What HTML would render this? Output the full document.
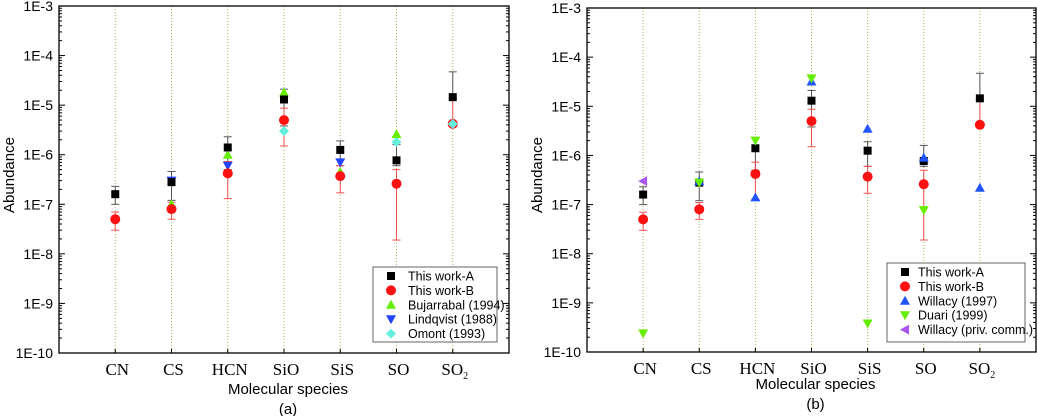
<!DOCTYPE html>
<html><head><meta charset="utf-8"><style>
html,body{margin:0;padding:0;background:#fff}
svg{display:block}
text{font-family:"Liberation Sans",sans-serif}
.cat{font-family:"Liberation Serif",serif;font-size:17px}
</style></head><body>
<svg id="chart" width="1037" height="416" xmlns="http://www.w3.org/2000/svg"></svg>
<script>
const categories = ["CN","CS","HCN","SiO","SiS","SO","SO2"];
// Panel (a) / (b) shared: This work-A and B
const workA = [1.6e-7, 2.8e-7, 1.4e-6, 1.3e-5, 1.25e-6, 7.7e-7, 1.45e-5];
const workAlo = [1.0e-7, 1.2e-7, 5e-7, 3.8e-6, 6e-7, 6e-7, 1.35e-5];
const workAhi = [2.3e-7, 4.6e-7, 2.3e-6, 2.1e-5, 1.9e-6, 1.6e-6, 4.7e-5];
const workB = [5e-8, 8e-8, 4.2e-7, 5e-6, 3.7e-7, 2.6e-7, 4.2e-6];
const workBlo = [3e-8, 5e-8, 1.3e-7, 1.5e-6, 1.7e-7, 1.9e-8, 4.2e-6];
const workBhi = [7e-8, 1.1e-7, 7.3e-7, 8.7e-6, 6e-7, 5e-7, 1.4e-5];
// Panel (a)
const bujarrabal = [null, 1e-7, 1e-6, 1.8e-5, 4.5e-7, 2.6e-6, null];
const lindqvist = [null, 3e-7, 6e-7, null, 7e-7, null, null];
const omont = [null, null, null, 3e-6, null, 1.8e-6, 4.2e-6];
// Panel (b)
const willacy = [null, 3e-7, 1.4e-7, 3.2e-5, 3.5e-6, 9e-7, 2.2e-7];
const duari = [2.4e-10, 2.8e-7, 2e-6, 3.7e-5, 3.8e-10, 7.7e-8, null];
const willacyPriv = [3e-7, null, null, null, null, null, null];
const yTicks = ["1E-3","1E-4","1E-5","1E-6","1E-7","1E-8","1E-9","1E-10"];

const NS="http://www.w3.org/2000/svg";
const svg=document.getElementById('chart');
function mk(tag,attrs,parent){const e=document.createElementNS(NS,tag);for(const k in attrs)e.setAttribute(k,attrs[k]);(parent||svg).appendChild(e);return e;}

function panel(P){
  const g=mk('g',{});
  
  
  const X=i=>P.x0+(i+1)*(P.x1-P.x0)/8;
  const Y=v=>P.y0+(-3-Math.log10(v))*(P.y1-P.y0)/7;
  categories.forEach((c,i)=>{
    const l=mk('line',{x1:X(i),x2:X(i),y1:P.y0,y2:P.y1,stroke:'#b0b060','stroke-width':1,'stroke-dasharray':'1,2'},g);
    
    
  });
  const fr=mk('rect',{x:P.x0,y:P.y0,width:P.x1-P.x0,height:P.y1-P.y0,fill:'none',stroke:'#000','stroke-width':1.3},g);
  
  
  for(let d=-3;d>=-10;d--){
    const y=Y(Math.pow(10,d));
    mk('line',{x1:P.x0,x2:P.x0+6,y1:y,y2:y,stroke:'#000'},g);
    mk('line',{x1:P.x1,x2:P.x1-6,y1:y,y2:y,stroke:'#000'},g);
    const t=mk('text',{x:P.x0-6,y:y+5,'text-anchor':'end','font-size':14},g);
    t.textContent=yTicks[-3-d];
    
    
    if(d>-10)for(let m=2;m<=9;m++){
      const ym=Y(m*Math.pow(10,d-1));
      mk('line',{x1:P.x0,x2:P.x0+3,y1:ym,y2:ym,stroke:'#000'},g);
      mk('line',{x1:P.x1,x2:P.x1-3,y1:ym,y2:ym,stroke:'#000'},g);
    }
  }
  categories.forEach((c,i)=>{
    mk('line',{x1:X(i),x2:X(i),y1:P.y1,y2:P.y1-4,stroke:'#000'},g);
    const t=mk('text',{x:X(i)+2,y:P.y1+22,'text-anchor':'middle',class:'cat'},g);
    if(c==='SO2'){t.textContent='SO';const s=mk('tspan',{'font-size':10,dy:4},t);s.textContent='2';}
    else t.textContent=c;
    
    
  });
  const xt=mk('text',{x:(P.x0+P.x1)/2+4,y:P.xtY,'text-anchor':'middle','font-size':15},g);
  xt.textContent='Molecular species';
  
  
  const pl=mk('text',{x:(P.x0+P.x1)/2+4,y:P.xtY+20,'text-anchor':'middle','font-size':15},g);
  pl.textContent=P.label;
  
  
  const yt=mk('text',{x:0,y:0,'text-anchor':'middle','font-size':15,transform:`translate(${P.ytX},175) rotate(-90)`},g);
  yt.textContent='Abundance';
  
  
  function ebar(lo,hi,col,i){
    const x=X(i);
    mk('line',{x1:x,x2:x,y1:Y(lo[i]),y2:Y(hi[i]),stroke:col,'stroke-width':1},g);
    mk('line',{x1:x-4,x2:x+4,y1:Y(lo[i]),y2:Y(lo[i]),stroke:col,'stroke-width':1},g);
    mk('line',{x1:x-4,x2:x+4,y1:Y(hi[i]),y2:Y(hi[i]),stroke:col,'stroke-width':1},g);
  }
  categories.forEach((c,i)=>{ebar(workAlo,workAhi,'#555',i);ebar(workBlo,workBhi,'#f05050',i);});
  function marker(shape,x,y,col,parent){
    let e;
    if(shape==='sq')e=mk('rect',{x:x-4,y:y-4,width:8,height:8,fill:col},parent);
    else if(shape==='ci')e=mk('circle',{cx:x,cy:y,r:5,fill:col},parent);
    else if(shape==='up')e=mk('polygon',{points:`${x-5},${y+4} ${x+5},${y+4} ${x},${y-5}`,fill:col},parent);
    else if(shape==='dn')e=mk('polygon',{points:`${x-5},${y-4} ${x+5},${y-4} ${x},${y+5}`,fill:col},parent);
    else if(shape==='di')e=mk('polygon',{points:`${x},${y-5} ${x+5},${y} ${x},${y+5} ${x-5},${y}`,fill:col},parent);
    else if(shape==='lf')e=mk('polygon',{points:`${x+4},${y-5} ${x+4},${y+5} ${x-5},${y}`,fill:col},parent);
    return e;
  }
  P.series.forEach(s=>{
    s.data.forEach((v,i)=>{
      if(v==null)return;
      const m=marker(s.shape,X(i),Y(v),s.color,g);
      
      
    });
  });
  const L=P.legend;
  const lg=mk('g',{},g);
  
  
  mk('rect',{x:L.x,y:L.y,width:L.w,height:L.h,fill:'#fff',stroke:'#666','stroke-width':1},lg);
  P.series.slice().sort((a,b)=>a.order-b.order).forEach((s,k)=>{
    const yy=L.y+9+k*14.4;
    marker(s.shape,L.x+18,yy,s.color,lg);
    const t=mk('text',{x:L.x+L.tx,y:yy+4.5,'font-size':12.5},lg);
    t.textContent=s.label;
    
    
  });
}

panel({name:'panel-a',label:'(a)',x0:59,x1:509,y0:6,y1:353,xtY:394,ytX:14,
  legend:{x:373,y:267,w:124,h:75,tx:35},
  series:[
    {key:'bujarrabal',label:'Bujarrabal (1994)',shape:'up',color:'#66ee00',data:bujarrabal,order:2},
    {key:'lindqvist',label:'Lindqvist (1988)',shape:'dn',color:'#2244ff',data:lindqvist,order:3},
    {key:'work-b',label:'This work-B',shape:'ci',color:'#ff1010',data:workB,order:1},
    {key:'omont',label:'Omont (1993)',shape:'di',color:'#66eedd',data:omont,order:4},
    {key:'work-a',label:'This work-A',shape:'sq',color:'#000',data:workA,order:0}
  ]});
panel({name:'panel-b',label:'(b)',x0:587,x1:1036,y0:8,y1:352,xtY:389,ytX:542,
  legend:{x:887,y:263,w:138,h:79,tx:31},
  series:[
    {key:'work-b',label:' This work-B',shape:'ci',color:'#ff1010',data:workB,order:1},
    {key:'work-a',label:'This work-A',shape:'sq',color:'#000',data:workA,order:0},
    {key:'willacy',label:'Willacy (1997)',shape:'up',color:'#2255ff',data:willacy,order:2},
    {key:'duari',label:' Duari (1999)',shape:'dn',color:'#66ee00',data:duari,order:3},
    {key:'willacy-priv',label:'Willacy (priv. comm.)',shape:'lf',color:'#aa55ee',data:willacyPriv,order:4}
  ]});
</script>
</body></html>
